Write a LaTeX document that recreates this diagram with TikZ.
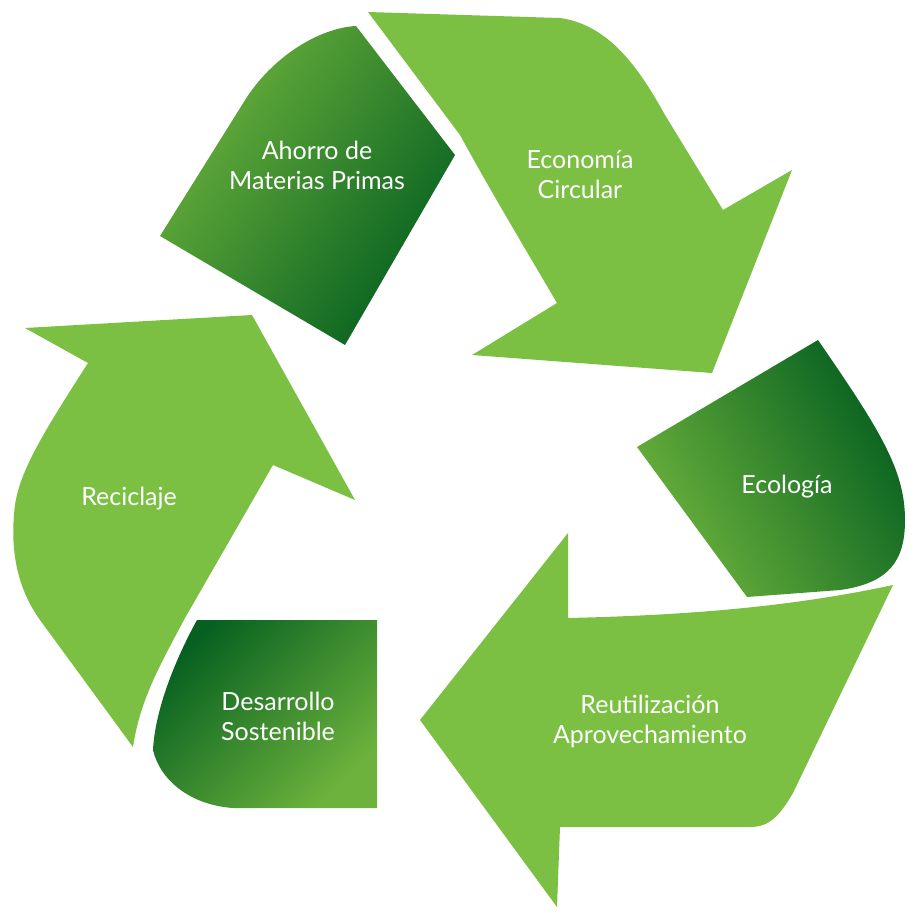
\documentclass[tikz,border=0pt]{standalone}
\usepackage{fontspec}
\setmainfont{Lato}
\definecolor{lg}{RGB}{123,192,67}
\definecolor{dg}{RGB}{6,96,32}
\definecolor{mg}{RGB}{108,178,60}
\begin{document}
\begin{tikzpicture}[x=1pt,y=-1pt,
  light/.style={fill=lg},
  dark/.style={left color=dg,right color=mg},
  lbl/.style={text=white,font=\fontsize{25}{30}\selectfont,align=center}]
\useasboundingbox (0,0) rectangle (920,920);
% top dark tail
\shade[dark,shading angle=235] (160,236) -- (247,97) .. controls (275,55) and (320,28) .. (356,26) -- (455,155) -- (345,345) -- cycle;
% top light arrow
\fill[light] (368,12) -- (560,18) .. controls (610,25) and (640,70) .. (665,115) -- (723,210) -- (792,170) -- (712,373) -- (472,355) -- (557,303) .. controls (520,240) and (490,190) .. (460,135) -- cycle;
% right dark tail (Ecologia)
\shade[dark,shading angle=300] (818,340) -- (637,447) -- (747,597) -- (840,590) .. controls (890,583) and (905,560) .. (905,520) .. controls (905,470) and (880,430) .. (818,340) -- cycle;
% bottom light arrow
\fill[light] (893,585) -- (793,793) .. controls (780,815) and (770,827) .. (750,827) -- (560,827) -- (557,907) -- (420,720) -- (568,533) -- (568,618) .. controls (700,615) and (800,605) .. (893,585) -- cycle;
% bottom-left dark tail (Desarrollo)
\shade[dark,shading angle=45] (197,620) -- (377,620) -- (377,808) -- (233,808) .. controls (190,805) and (160,780) .. (153,750) .. controls (155,710) and (175,660) .. (197,620) -- cycle;
% left light arrow
\fill[light] (25,328) -- (252,315) -- (355,500) -- (273,465) -- (185,618) .. controls (160,665) and (140,700) .. (133,747) -- (40,620) .. controls (15,585) and (10,545) .. (15,505) .. controls (20,470) and (45,430) .. (88,363) -- cycle;
\node[lbl] (a) at (317,165) {Ahorro de\\Materias Primas};
\node[lbl] (b) at (580,175) {Economía\\Circular};
\node[lbl] (c) at (787,487) {Ecología};
\node[lbl] (d) at (129,499) {Reciclaje};
\node[lbl] (e) at (278,716) {Desarrollo\\Sostenible};
\node[lbl] (f) at (650,721) {Reutilización\\Aprovechamiento};
\end{tikzpicture}
\end{document}
